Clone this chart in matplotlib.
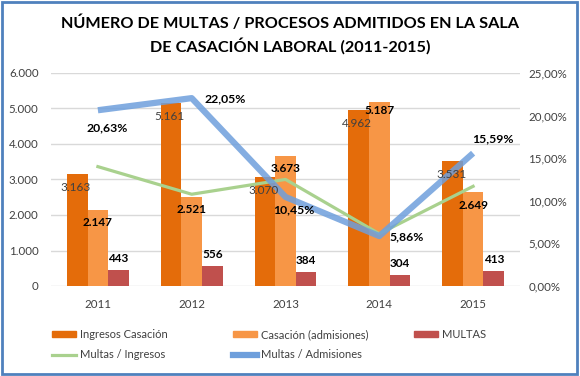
import matplotlib.pyplot as plt
import matplotlib.patches as mpatches
import matplotlib.lines as mlines
from matplotlib.ticker import FuncFormatter
import numpy as np

plt.rcParams['font.family'] = ['Lato', 'DejaVu Sans']

years = ['2011', '2012', '2013', '2014', '2015']
ingresos = [3163, 5161, 3070, 4962, 3531]
admisiones = [2147, 2521, 3673, 5187, 2649]
multas = [443, 556, 384, 304, 413]
multas_ingresos = [14.01, 10.77, 12.51, 6.13, 11.70]
multas_admisiones = [20.63, 22.05, 10.45, 5.86, 15.59]

c_ing = '#E46C0A'
c_adm = '#F79646'
c_mul = '#C0504D'
c_green = '#A9D18E'
c_blue = '#6E9FDC'


def miles(v, pos=None):
    return f"{int(round(v)):,}".replace(',', '.')


def pct(v, pos=None):
    return f"{v:.2f}%".replace('.', ',')


fig = plt.figure(figsize=(5.8, 3.76), dpi=100)
ax = fig.add_axes([51 / 580, 1 - 286 / 376, 469 / 580, 213 / 376])
ax2 = ax.twinx()

x = np.arange(len(years))
w = 0.22
ax.bar(x - w, ingresos, w, color=c_ing, zorder=2)
ax.bar(x, admisiones, w, color=c_adm, zorder=2)
ax.bar(x + w, multas, w, color=c_mul, zorder=2)

ax.set_ylim(0, 6000)
ax.set_xlim(-0.5, 4.5)
ax.set_yticks(np.arange(0, 6001, 1000))
ax.yaxis.set_major_formatter(FuncFormatter(miles))
ax.set_xticks(x)
ax.set_xticklabels(years)
ax.grid(axis='y', color='#D9D9D9', linewidth=1, zorder=0)
ax.set_axisbelow(True)
for s in ax.spines.values():
    s.set_visible(False)
ax.tick_params(axis='y', length=0, labelsize=8.3, colors='#404040', pad=9)
ax.tick_params(axis='x', length=0, labelsize=8.3, colors='#404040', pad=9)

ax2.plot(x, multas_ingresos, color=c_green, linewidth=2.3, zorder=3)
ax2.plot(x, multas_admisiones, color=c_blue, linewidth=4.5, alpha=0.85,
         solid_capstyle='butt', zorder=4)
ax2.set_ylim(0, 25)
ax2.set_yticks(np.arange(0, 25.01, 5))
ax2.yaxis.set_major_formatter(FuncFormatter(pct))
for s in ax2.spines.values():
    s.set_visible(False)
ax2.tick_params(length=0, labelsize=8.3, colors='#404040', pad=6)

# data labels (offsets in points)
for i in range(len(years)):
    ax2.annotate(miles(ingresos[i]), (x[i] - w, ingresos[i] * 25 / 6000),
                 xytext=(-1, -10), textcoords='offset points',
                 ha='center', va='center', fontsize=8.5, color='#404040', zorder=6)
    ax2.annotate(miles(admisiones[i]), (x[i], admisiones[i] * 25 / 6000),
                 xytext=(0, -9.5 if i != 3 else -6.5), textcoords='offset points',
                 ha='center', va='center', fontsize=8.5, fontweight='bold', zorder=6)
    ax2.annotate(miles(multas[i]), (x[i] + w, multas[i] * 25 / 6000),
                 xytext=(0, 8.5), textcoords='offset points',
                 ha='center', va='center', fontsize=8.5, fontweight='bold', zorder=6)

pct_off = [(7, -13), (24, -0.5), (6, -9), (20, -0.5), (14, 10)]
for i in range(len(years)):
    ax2.annotate(pct(multas_admisiones[i]), (x[i], multas_admisiones[i]),
                 xytext=pct_off[i], textcoords='offset points',
                 ha='center', va='center', fontsize=8.8, fontweight='bold', zorder=6)

fig.text(0.5, 1 - 23 / 376, "NÚMERO DE MULTAS / PROCESOS ADMITIDOS EN LA SALA",
         ha='center', va='center', fontsize=11.7, fontweight='bold')
fig.text(0.5, 1 - 46 / 376, "DE CASACIÓN LABORAL (2011-2015)",
         ha='center', va='center', fontsize=11.7, fontweight='bold')

# legend, three columns placed like the original
h_ing = mpatches.Patch(color=c_ing, label='Ingresos Casación')
h_adm = mpatches.Patch(color=c_adm, label='Casación (admisiones)')
h_mul = mpatches.Patch(color=c_mul, label='MULTAS')
h_gr = mlines.Line2D([], [], color=c_green, linewidth=2.3, label='Multas / Ingresos')
h_bl = mlines.Line2D([], [], color=c_blue, linewidth=4.5, label='Multas / Admisiones')

cols = [([h_ing, h_gr], 52), ([h_adm, h_bl], 233), ([h_mul], 414)]
for handles, px in cols:
    fig.legend(handles=handles, loc='upper left', bbox_to_anchor=(px / 580, 1 - 329 / 376),
               frameon=False, fontsize=8, handlelength=2.2, handleheight=0.55,
               handletextpad=0.3, labelspacing=0.85, borderpad=0, borderaxespad=0,
               labelcolor='#404040')

fig.add_artist(mpatches.Rectangle((2 / 580, 2 / 376), 575 / 580, 372 / 376,
                                  transform=fig.transFigure, fill=False,
                                  edgecolor='#4F81BD', linewidth=2))

fig.savefig('out.png', dpi=100)
